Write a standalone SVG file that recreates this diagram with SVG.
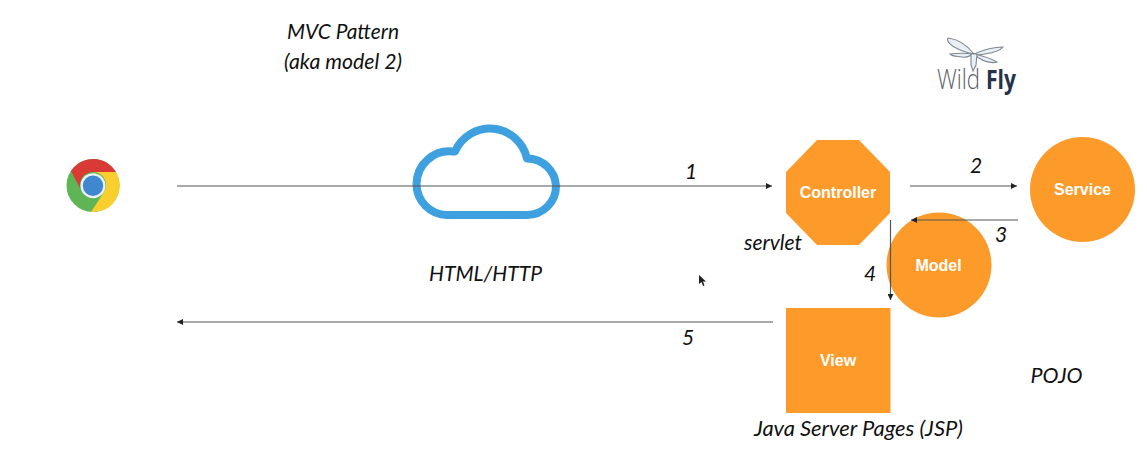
<svg xmlns="http://www.w3.org/2000/svg" width="1147" height="471" viewBox="0 0 1147 471">
<style>
.n{fill:#fd9b2a}
.l{font:bold 16px "Liberation Sans",Arial,sans-serif;fill:#fff;text-anchor:middle}
.h{font-family:"Lato","Liberation Sans",sans-serif;font-style:italic;font-size:21px;fill:#111;text-anchor:middle}
.c{stroke:#555;stroke-width:1.2;fill:none;marker-end:url(#a)}
.w{fill:#e9eff6;stroke:#7f878f;stroke-width:1.1}
</style>
<defs><marker id="a" markerUnits="userSpaceOnUse" markerWidth="7" markerHeight="6" refX="6" refY="3" orient="auto"><path d="M0 0L6 3L0 6Z" fill="#222"/></marker></defs>
<rect width="1147" height="471" fill="#fff"/>
<g id="title"><text class="h" x="343" y="39" textLength="112" lengthAdjust="spacingAndGlyphs">MVC Pattern</text><text class="h" x="343" y="69" textLength="118" lengthAdjust="spacingAndGlyphs">(aka model 2)</text></g>
<g id="wildfly">
<path class="w" d="M974 54C967 45 957 39 948 38C946 41 952 47 958 49C964 52 969 53 974 54Z"/>
<path class="w" d="M974 54C983 50 994 47 1003 47C1000 51 992 53 985 54C981 55 977 55 974 54Z"/>
<path class="w" d="M973 54C966 53 957 53 950 54C953 57 958 56 962 57C966 58 970 56 973 54Z"/>
<path class="w" d="M975 54C983 56 992 59 997 62C992 64 983 61 979 58C977 57 976 56 975 54Z"/>
<path class="w" d="M971 54L977 54L976 65L973 71L971 65Z"/>
<text x="937" y="89" font-family="'Open Sans','Liberation Sans',sans-serif" font-size="27" font-weight="300" fill="#5b6068" textLength="43" lengthAdjust="spacingAndGlyphs">Wild</text>
<text x="986" y="89" font-family="'Open Sans','Liberation Sans',sans-serif" font-size="27" font-weight="700" fill="#26324a" textLength="30" lengthAdjust="spacingAndGlyphs">Fly</text>
</g>
<g id="chrome">
<circle cx="93" cy="185.500" r="26.500" fill="#5fb556"/>
<path d="M71 171A26.500 26.500 0 0 1 116 172L93 172A13 13 0 0 0 82 192Z" fill="#d93a35"/>
<path d="M116 172A26.500 26.500 0 0 1 91 212L104 192A13 13 0 0 0 93 172Z" fill="#f8cf2c"/>
<circle cx="93" cy="185.700" r="12.500" fill="#edf2f6"/>
<circle cx="93" cy="185.700" r="10.200" fill="#3f88cf"/>
</g>
<g id="cloud"><path d="M447 215A31 31 0 0 1 416.500 184A33 33 0 0 1 453 151.500L455 151.500A38 38 0 0 1 527 158.500A29 29 0 0 1 556 186A29 29 0 0 1 527 215Z" fill="none" stroke="#3fa0e0" stroke-width="8" stroke-linejoin="round"/></g>
<g id="cloud-label"><text class="h" x="485.500" y="281" textLength="113" lengthAdjust="spacingAndGlyphs">HTML/HTTP</text></g>
<g id="controller"><path class="n" d="M817 140H859L890 172V213L859 245H817L786 213V172Z"/><text class="l" x="838" y="198">Controller</text></g>
<g id="service"><circle class="n" cx="1082.500" cy="189.500" r="52.500"/><text class="l" x="1082.500" y="195">Service</text></g>
<g id="model"><circle class="n" cx="939" cy="265" r="52.500"/><text class="l" x="938.500" y="271">Model</text></g>
<g id="view"><rect class="n" x="786" y="308" width="104.500" height="105"/><text class="l" x="838" y="366">View</text></g>
<g id="connectors">
<path class="c" d="M177 186H772"/>
<path class="c" d="M910 186H1017"/>
<path class="c" d="M1018 220H911"/>
<path class="c" d="M890.500 220V300"/>
<path class="c" d="M773 322H177"/>
</g>
<g id="labels">
<text class="h" x="691" y="179">1</text>
<text class="h" x="976" y="173">2</text>
<text class="h" x="1001" y="242">3</text>
<text class="h" x="870" y="281">4</text>
<text class="h" x="688" y="345">5</text>
<text class="h" x="773" y="250" textLength="58" lengthAdjust="spacingAndGlyphs">servlet</text>
<text class="h" x="1056.500" y="383" textLength="52" lengthAdjust="spacingAndGlyphs">POJO</text>
<text class="h" x="858.500" y="436" textLength="209" lengthAdjust="spacingAndGlyphs">Java Server Pages (JSP)</text>
</g>
<path id="cursor" d="M699 275L699 284L701.500 282L703 286L704.500 285.500L703 281.500L706 281.500Z" fill="#222"/>
</svg>
